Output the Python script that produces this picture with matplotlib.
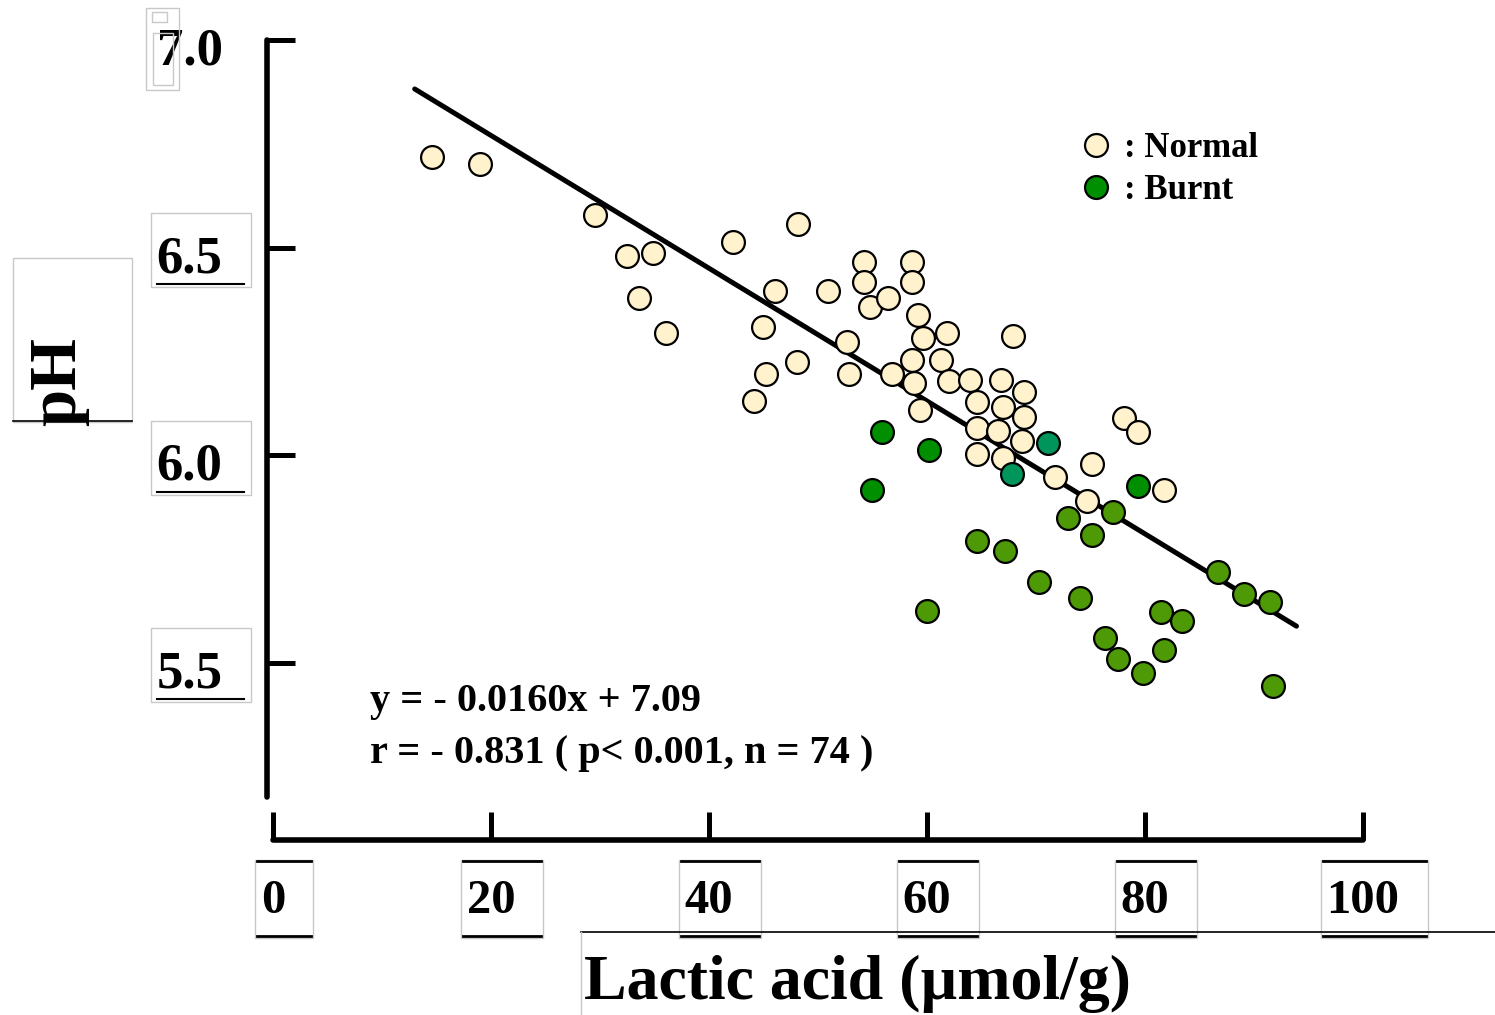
import numpy as np
import matplotlib.pyplot as plt
from matplotlib.patches import Rectangle
from matplotlib.lines import Line2D
from matplotlib.transforms import ScaledTranslation

plt.rcParams['font.family'] = ['Liberation Serif', 'DejaVu Serif']
plt.rcParams['font.weight'] = 'bold'

# lactic acid (umol/g) and pH
normal_x = [14.6, 19.0, 29.5, 32.5, 34.9, 33.6, 36.1, 42.2, 48.2, 46.1,
            45.0, 45.2, 44.1, 48.1, 50.9, 52.7, 52.8, 54.2, 54.2, 54.8,
            56.4, 58.6, 58.6, 59.2, 59.6, 61.8, 67.9, 58.6, 61.3, 56.8,
            58.8, 62.0, 63.9, 66.8, 68.9, 64.6, 67.0, 68.9, 59.4, 78.1,
            79.4, 64.6, 66.5, 68.7, 64.6, 67.0, 75.1, 71.7, 74.7, 81.7]
normal_ph = [6.718, 6.701, 6.578, 6.480, 6.487, 6.378, 6.294, 6.513, 6.557, 6.395,
             6.308, 6.195, 6.130, 6.224, 6.395, 6.272, 6.195, 6.465, 6.417, 6.357,
             6.378, 6.465, 6.417, 6.337, 6.282, 6.294, 6.287, 6.229, 6.229, 6.195,
             6.173, 6.178, 6.181, 6.181, 6.152, 6.128, 6.116, 6.092, 6.108, 6.089,
             6.055, 6.065, 6.058, 6.034, 6.002, 5.993, 5.978, 5.947, 5.889, 5.916]

burnt_a_x = [55.9, 60.2, 55.0, 79.4]
burnt_a_ph = [6.055, 6.012, 5.916, 5.925]
burnt_b_x = [71.1, 67.8]
burnt_b_ph = [6.029, 5.954]
burnt_c_x = [72.9, 77.1, 75.1, 64.6, 67.2, 70.3, 74.0, 60.0, 86.7,
             89.1, 91.5, 81.5, 83.4, 76.3, 77.5, 81.7, 79.8, 91.7]
burnt_c_ph = [5.848, 5.863, 5.807, 5.793, 5.769, 5.694, 5.655, 5.624, 5.718,
              5.665, 5.646, 5.622, 5.600, 5.559, 5.508, 5.530, 5.475, 5.443]

slope, intercept = -0.0160, 7.09
fit_x = np.array([13.0, 93.9])

xticks = [0, 20, 40, 60, 80, 100]
yticks = [5.5, 6.0, 6.5, 7.0]

W, H = 1495, 1015
fig = plt.figure(figsize=(W / 100, H / 100), dpi=100)
ax = fig.add_axes([267 / W, 1 - 797 / H, 1096 / W, 757 / H])
ax.set_xlim(-0.55, 100)
ax.set_ylim(5.176, 7.0)

ax.plot(fit_x, slope * fit_x + intercept, color='black', lw=3.6,
        solid_capstyle='round', zorder=2)

kw = dict(s=270, edgecolors='black', linewidths=1.6, zorder=3, clip_on=False)
ax.scatter(normal_x, normal_ph, c='#FFF2CC', **kw)
ax.scatter(burnt_a_x, burnt_a_ph, c='#008F00', **kw)
ax.scatter(burnt_b_x, burnt_b_ph, c='#00955A', **kw)
ax.scatter(burnt_c_x, burnt_c_ph, c='#4D9A06', **kw)

for s in ['top', 'right']:
    ax.spines[s].set_visible(False)
for s in ['left', 'bottom']:
    ax.spines[s].set_linewidth(4)
    ax.spines[s].set_capstyle('round')
ax.spines['bottom'].set_position(('outward', 31))
ax.spines['bottom'].set_bounds(0, 100)

ax.set_xticks(xticks)
ax.set_xticklabels([str(t) for t in xticks])
ax.set_yticks(yticks)
ax.set_yticklabels(['%.1f' % t for t in yticks])
ax.tick_params(axis='both', direction='in', length=20, width=3.6)
ax.tick_params(axis='y', labelsize=38, pad=32)
ax.tick_params(axis='x', labelsize=35, pad=28)
for lab in ax.get_yticklabels():
    lab.set_transform(lab.get_transform() +
                      ScaledTranslation(0, -0.06, fig.dpi_scale_trans))

fig.text(59 / W, 1 - 382 / H, 'pH', fontsize=48, rotation=90,
         ha='center', va='center')
fig.text(857 / W, 1 - 984 / H, 'Lactic acid (µmol/g)', fontsize=46,
         ha='center', va='center')

fig.text(370 / W, 1 - 701 / H, 'y = - 0.0160x + 7.09', fontsize=29, va='center')
fig.text(370 / W, 1 - 753 / H, 'r = - 0.831 ( p< 0.001, n = 74 )', fontsize=29,
         va='center')

handles = [Line2D([], [], ls='none', marker='o', ms=16.5, mfc='#FFF2CC',
                  mec='black', mew=1.6),
           Line2D([], [], ls='none', marker='o', ms=16.5, mfc='#008F00',
                  mec='black', mew=1.6)]
ax.legend(handles, [': Normal', ': Burnt'], loc='upper left',
          bbox_to_anchor=(1079 / W, 1 - 132 / H), bbox_transform=fig.transFigure,
          frameon=False, fontsize=25, handlelength=1.0, handletextpad=0.3,
          borderpad=0, borderaxespad=0, labelspacing=0.25)

# faint text-box outlines that show round the labels in the original
fig.canvas.draw()
r = fig.canvas.get_renderer()
gray = '#C8C8C8'


def box(x0, y0, w, h):
    fig.add_artist(Rectangle((x0, y0), w, h, fill=False, ec=gray, lw=1,
                             transform=None))


def rule(xs, ys, lw=1.5, color='black'):
    fig.add_artist(Line2D(xs, ys, color=color, lw=lw, transform=None))


ylabs = ax.get_yticklabels()
for lab in ylabs[:-1]:
    e = lab.get_window_extent(r)
    box(e.x0 - 6, e.y0 - 4, e.width + 34, e.height + 26)
    rule([e.x0, e.x1 + 21], [e.y0 - 1, e.y0 - 1])
e = ylabs[-1].get_window_extent(r)
box(e.x0 - 11, e.y0 - 14, 33, 82)
box(e.x0 - 4, e.y0 - 9, 20, 52)
box(e.x0 - 5, e.y1 + 6, 15, 10)

for lab in ax.get_xticklabels():
    e = lab.get_window_extent(r)
    box(e.x0 - 6, e.y0 - 15, e.width + 34, e.height + 34)
    for yy in (e.y0 - 13, e.y1 + 18):
        rule([e.x0 - 4, e.x1 + 26], [yy, yy], lw=2)

e = fig.texts[0].get_window_extent(r)
cx, cy = (e.x0 + e.x1) / 2, (e.y0 + e.y1) / 2
box(cx - 46, cy - 40, 119, 164)
rule([cx - 46, cx + 73], [cy - 39, cy - 39], lw=1.2)

e = fig.texts[1].get_window_extent(r)
rule([e.x0 - 3, W], [e.y1 + 23, e.y1 + 23], lw=1.2)
rule([e.x0 - 3, e.x0 - 3], [0, e.y1 + 23], lw=1, color=gray)

fig.savefig('out.png', dpi=100)
